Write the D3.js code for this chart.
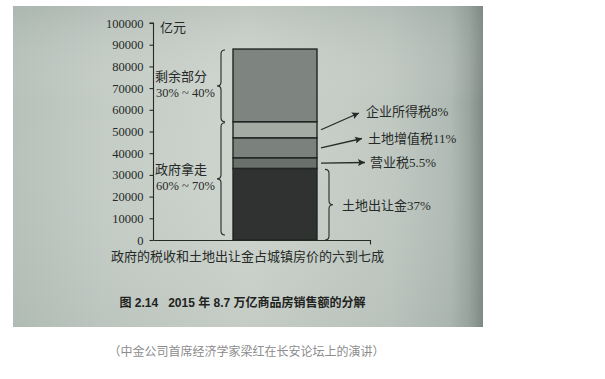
<!DOCTYPE html>
<html>
<head>
<meta charset="utf-8">
<script src="https://cdn.jsdelivr.net/npm/d3@7"></script>
<style>
  html, body { margin: 0; padding: 0; background: #ffffff; }
  svg { display: block; }
</style>
</head>
<body>
<svg id="chart" width="605" height="379"></svg>
<script>
// ---------- data ----------
const category = "2015";
const segments = ["土地出让金", "营业税", "土地增值税", "企业所得税", "剩余部分"];
const segmentValues = [33000, 4900, 9200, 7400, 33500];
const segmentShares = ["37%", "5.5%", "11%", "8%", "30% ~ 40%"];
const segmentColors = ["#2f3230", "#6a716c", "#7b827d", "#a4aba5", "#7e8580"];
const yTicks = [0, 10000, 20000, 30000, 40000, 50000, 60000, 70000, 80000, 90000, 100000];
const unitLabel = "亿元";
const groupLabels = [
  { name: "剩余部分", share: "30% ~ 40%", from: 4, to: 4 },
  { name: "政府拿走", share: "60% ~ 70%", from: 0, to: 3 }
];
const xAxisText = "政府的税收和土地出让金占城镇房价的六到七成";
const captionText = "图 2.14   2015 年 8.7 万亿商品房销售额的分解";
const sourceText = "（中金公司首席经济学家梁红在长安论坛上的演讲）";

// ---------- setup ----------
const svg = d3.select("#chart");
const serif = "'Liberation Serif', 'Noto Sans CJK SC', serif";
const ink = "#262a27";

// photo background
const defs = svg.append("defs");
const grad = defs.append("linearGradient").attr("id", "paper").attr("x1", 0).attr("x2", 1).attr("y1", 0).attr("y2", 0);
[[0, "#b6c1ba"], [0.2, "#c4ccc6"], [0.5, "#ced4ce"], [0.8, "#c0c8c2"], [0.93, "#b0bab4"], [0.97, "#9ba59f"], [1, "#7f8984"]]
  .forEach(([o, c]) => grad.append("stop").attr("offset", o).attr("stop-color", c));
const gradV = defs.append("linearGradient").attr("id", "paperV").attr("x1", 0).attr("x2", 0).attr("y1", 0).attr("y2", 1);
[[0, "rgba(120,135,128,0.18)"], [0.3, "rgba(255,255,255,0)"], [1, "rgba(120,135,128,0.10)"]]
  .forEach(([o, c]) => gradV.append("stop").attr("offset", o).attr("stop-color", c));
svg.append("rect").attr("x", 13).attr("y", 6).attr("width", 470).attr("height", 321).attr("fill", "url(#paper)");
svg.append("rect").attr("x", 13).attr("y", 6).attr("width", 470).attr("height", 321).attr("fill", "url(#paperV)");

// scales
const y = d3.scaleLinear().domain([0, 100000]).range([240, 23]);
const x = d3.scaleBand().domain([category]).range([190, 360]).paddingInner(0).paddingOuter(0.512);

// stacked data
const row = { cat: category };
segments.forEach((s, i) => row[s] = segmentValues[i]);
const stack = d3.stack().keys(segments)([row]);

// y axis
const yAxis = d3.axisLeft(y).tickValues(yTicks).tickFormat(d3.format("d")).tickSize(4).tickPadding(6);
const gy = svg.append("g").attr("transform", "translate(153.5,0)").call(yAxis);
gy.select(".domain").attr("stroke", ink).attr("stroke-width", 1.1).attr("d", "M-4," + y(100000) + "H0V" + y(0));
gy.selectAll(".tick line").attr("stroke", ink).attr("stroke-width", 1.1);
gy.selectAll(".tick text").attr("fill", ink).style("font-family", serif).style("font-size", "12.5px");

// x axis baseline
const xAxis = d3.axisBottom(d3.scaleLinear().domain([0, 1]).range([0, 217])).tickValues([]).tickSizeOuter(4);
const gx = svg.append("g").attr("transform", "translate(153.5,240.5)").call(xAxis);
gx.select(".domain").attr("stroke", ink).attr("stroke-width", 1.1).attr("d", "M0,0H217V4");

// unit label
svg.append("text").attr("x", 160).attr("y", 27).attr("dy", "0.35em")
  .style("font-family", serif).style("font-size", "13px").attr("fill", ink).text(unitLabel);

// bars
svg.append("g").selectAll("rect").data(stack).join("rect")
  .attr("x", x(category)).attr("width", x.bandwidth())
  .attr("y", d => y(d[0][1])).attr("height", d => y(d[0][0]) - y(d[0][1]))
  .attr("fill", (d, i) => segmentColors[i])
  .attr("stroke", "#222523").attr("stroke-width", 1.4);

// brace path
function brace(xp, y0, y1, dir, w) {
  const ym = (y0 + y1) / 2, r = 4;
  const xe = xp - dir * w, xt = xp + dir * w;
  return `M${xe},${y0} Q${xp},${y0} ${xp},${y0 + r} L${xp},${ym - r} Q${xp},${ym} ${xt},${ym} Q${xp},${ym} ${xp},${ym + r} L${xp},${y1 - r} Q${xp},${y1} ${xe},${y1}`;
}

// left group braces + labels
const barL = x(category), barR = x(category) + x.bandwidth();
groupLabels.forEach(g => {
  const top = y(stack[g.to][0][1]);
  const bot = g.from === 0 ? y(0) - 5 : y(stack[g.from][0][0]);
  svg.append("path").attr("d", brace(barL - 12, top + 1, bot, -1, 4))
    .attr("fill", "none").attr("stroke", ink).attr("stroke-width", 1.1);
  const mid = (top + bot) / 2;
  svg.append("text").attr("x", 155).attr("y", mid - 9).attr("dy", "0.35em")
    .style("font-family", serif).style("font-size", "13px").attr("fill", ink).text(g.name);
  svg.append("text").attr("x", 156).attr("y", mid + 7).attr("dy", "0.35em")
    .style("font-family", serif).style("font-size", "12.5px").attr("fill", ink).text(g.share);
});

// right brace for 土地出让金
{
  const top = y(stack[0][0][1]), bot = y(0);
  svg.append("path").attr("d", brace(barR + 12, top + 1, bot, 1, 4))
    .attr("fill", "none").attr("stroke", ink).attr("stroke-width", 1.1);
  svg.append("text").attr("x", 342).attr("y", (top + bot) / 2 + 1).attr("dy", "0.35em")
    .style("font-family", serif).style("font-size", "13px").attr("fill", ink)
    .text(segments[0] + segmentShares[0]);
}

// arrows for taxes
defs.append("marker").attr("id", "arrow").attr("viewBox", "0 0 10 10").attr("refX", 10).attr("refY", 5)
  .attr("markerWidth", 9).attr("markerHeight", 7).attr("markerUnits", "userSpaceOnUse").attr("orient", "auto")
  .append("path").attr("d", "M0,0L10,5L0,10L2,5Z").attr("fill", ink);

const arrowEnds = { 3: [359, 113], 2: [362, 138.5], 1: [365, 162.5] };
const labelPos = { 3: [366, 111], 2: [368, 138], 1: [370, 162] };
[3, 2, 1].forEach(i => {
  const s = stack[i][0];
  const my = (y(s[0]) + y(s[1])) / 2;
  svg.append("line").attr("x1", barR + 4).attr("y1", my)
    .attr("x2", arrowEnds[i][0]).attr("y2", arrowEnds[i][1])
    .attr("stroke", ink).attr("stroke-width", 1.3).attr("marker-end", "url(#arrow)");
  svg.append("text").attr("x", labelPos[i][0]).attr("y", labelPos[i][1]).attr("dy", "0.35em")
    .style("font-family", serif).style("font-size", "13px").attr("fill", ink)
    .text(segments[i] + segmentShares[i]);
});

// x axis text
svg.append("text").attr("x", 247.5).attr("y", 256.5).attr("dy", "0.35em").attr("text-anchor", "middle")
  .style("font-family", serif).style("font-size", "13px").attr("fill", ink).text(xAxisText);

// caption
svg.append("text").attr("x", 242.5).attr("y", 303).attr("dy", "0.35em").attr("text-anchor", "middle")
  .style("font-family", "'Liberation Sans', 'Noto Sans CJK SC', sans-serif").style("font-size", "12px")
  .style("font-weight", "bold").style("white-space", "pre").attr("fill", "#1f2320").text(captionText);

// source line
svg.append("text").attr("x", 246.5).attr("y", 352).attr("dy", "0.35em").attr("text-anchor", "middle")
  .style("font-family", "'Noto Sans CJK SC', sans-serif").style("font-size", "12px")
  .attr("fill", "#8c8c8c").text(sourceText);
</script>
</body>
</html>
